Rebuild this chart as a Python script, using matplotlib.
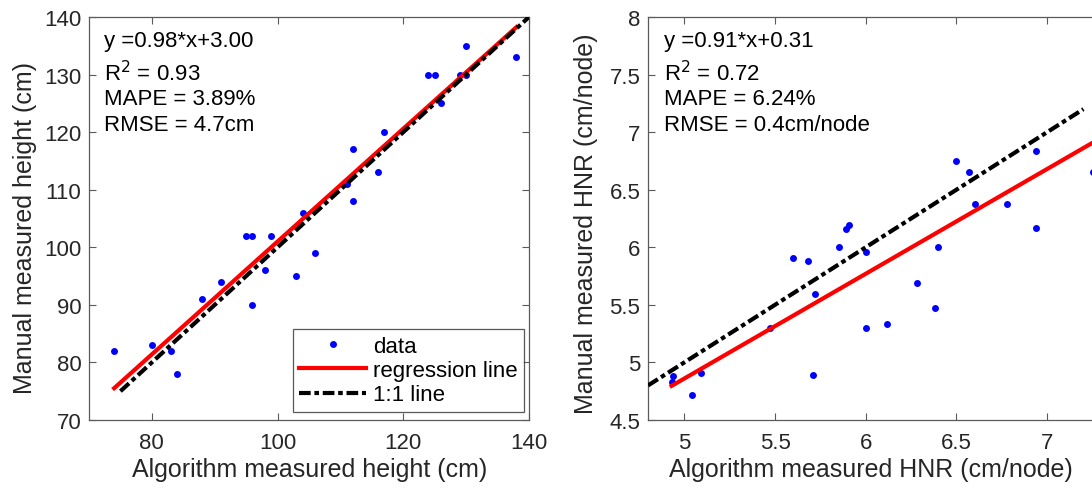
import matplotlib
matplotlib.use("Agg")
import matplotlib.pyplot as plt
import numpy as np

plt.rcParams['font.family'] = ['Liberation Sans', 'DejaVu Sans']

# Plant height: algorithm vs manual (cm)
height_alg = [74, 80, 83, 84, 88, 91, 95, 96, 96, 98, 99, 103, 104, 106,
              111, 112, 112, 116, 117, 124, 125, 126, 129, 130, 130, 138]
height_man = [82, 83, 82, 78, 91, 94, 102, 102, 90, 96, 102, 95, 106, 99,
              111, 117, 108, 113, 120, 130, 130, 125, 130, 130, 135, 133]
height_fit = (0.98, 3.00)
height_fit_range = (74, 138)
height_ident_range = (75, 140)
height_stats = ["y =0.98*x+3.00", "R$^2$ = 0.93", "MAPE = 3.89%", "RMSE = 4.7cm"]

# Height per node ratio: algorithm vs manual (cm/node)
hnr_alg = [4.93, 4.94, 5.04, 5.09, 5.47, 5.60, 5.68, 5.71, 5.72, 5.85, 5.89,
           5.91, 6.00, 6.00, 6.12, 6.28, 6.38, 6.40, 6.50, 6.57, 6.60, 6.78,
           6.94, 6.94, 7.25]
hnr_man = [4.83, 4.88, 4.72, 4.91, 5.30, 5.91, 5.88, 4.89, 5.59, 6.00, 6.16,
           6.19, 5.96, 5.30, 5.33, 5.69, 5.47, 6.00, 6.75, 6.65, 6.38, 6.38,
           6.84, 6.17, 6.65]
hnr_fit = (0.91, 0.31)
hnr_fit_range = (4.93, 7.5)
hnr_ident_range = (4.8, 7.2)
hnr_stats = ["y =0.91*x+0.31", "R$^2$ = 0.72", "MAPE = 6.24%", "RMSE = 0.4cm/node"]

W, H = 1092, 489
fig = plt.figure(figsize=(W / 100, H / 100), dpi=100)

axis_col = '#262626'
spine_col = '#5a5a5a'
fs = 16
label_fs = 18
# baselines of the statistics block, as axes fractions
stat_rows = [0.928, 0.844, 0.784, 0.720]


def style(ax):
    for s in ax.spines.values():
        s.set_color(spine_col)
        s.set_linewidth(0.9)
    ax.tick_params(direction='in', length=5, width=0.8, color=spine_col,
                   labelcolor=axis_col, labelsize=fs, top=True, right=True)
    ax.tick_params(axis='x', pad=8.5)
    ax.tick_params(axis='y', pad=5.5)


def panel(ax, width_px, xs, ys, fit, fit_rng, id_rng, stats, xlabel, ylabel):
    ax.plot(xs, ys, 'o', color='blue', markersize=5, markeredgewidth=0,
            label='data', zorder=3)
    fx = np.array(fit_rng)
    ax.plot(fx, fit[0] * fx + fit[1], '-', color='red', lw=3,
            label='regression line', zorder=4)
    ix = np.array(id_rng)
    ln, = ax.plot(ix, ix, color='black', lw=3, label='1:1 line', zorder=5)
    ln.set_dashes((2.8, 0.9, 1.1, 0.9))
    style(ax)
    ax.set_xlabel(xlabel, fontsize=label_fs, color=axis_col)
    ax.set_ylabel(ylabel, fontsize=label_fs, color=axis_col)
    x0 = 15.5 / width_px
    for t, yb in zip(stats, stat_rows):
        ax.text(x0, yb, t, transform=ax.transAxes,
                fontsize=fs, color='black', va='baseline', ha='left')


# Left panel
ax1 = fig.add_axes([89 / W, (H - 421) / H, 440 / W, 403 / H])
panel(ax1, 440, height_alg, height_man, height_fit, height_fit_range,
      height_ident_range, height_stats,
      'Algorithm measured height (cm)', 'Manual measured height (cm)')
ax1.set_xlim(70, 140)
ax1.set_ylim(70, 140)
ax1.set_xticks([80, 100, 120, 140])
ax1.set_yticks(np.arange(70, 141, 10))
ax1.xaxis.set_label_coords(0.502, -0.092)
ax1.yaxis.set_label_coords(-0.118, 0.48)
leg = ax1.legend(loc='lower right', bbox_to_anchor=(1 - 5 / 440, 8 / 403),
                 fontsize=fs, frameon=True, fancybox=False,
                 edgecolor='#303030', handlelength=3.0, borderpad=0.3,
                 labelspacing=0.15, handletextpad=0.3, borderaxespad=0.0)
leg.get_frame().set_linewidth(0.9)

# Right panel (extends past the right edge of the figure)
ax2 = fig.add_axes([648 / W, (H - 421) / H, 508 / W, 403 / H])
panel(ax2, 508, hnr_alg, hnr_man, hnr_fit, hnr_fit_range, hnr_ident_range,
      hnr_stats, 'Algorithm measured HNR (cm/node)',
      'Manual measured HNR (cm/node)')
ax2.set_xlim(4.8, 7.6)
ax2.set_ylim(4.5, 8)
ax2.set_xticks([5, 5.5, 6, 6.5, 7])
ax2.set_xticklabels(['5', '5.5', '6', '6.5', '7'])
ax2.set_yticks([4.5, 5, 5.5, 6, 6.5, 7, 7.5, 8])
ax2.set_yticklabels(['4.5', '5', '5.5', '6', '6.5', '7', '7.5', '8'])
ax2.xaxis.set_label_coords((871 - 648) / 508, -0.092)
ax2.yaxis.set_label_coords(-0.098, 0.49)

fig.savefig('out.png', dpi=100)
